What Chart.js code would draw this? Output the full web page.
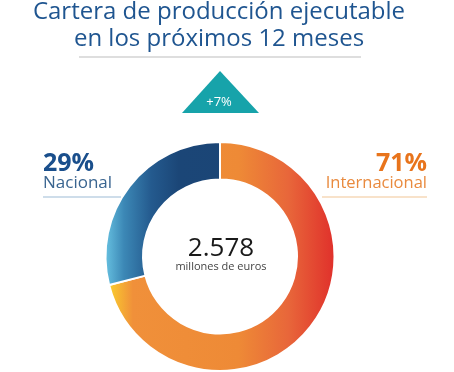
<!DOCTYPE html>
<html>
<head>
<meta charset="utf-8">
<script src="https://cdn.jsdelivr.net/npm/chart.js@4"></script>
<style>
  html, body { margin: 0; padding: 0; background: #fff; overflow: hidden; }
  #wrap { position: relative; width: 454px; height: 372px; }
</style>
</head>
<body>
<div id="wrap"><canvas id="cartera" width="454" height="372"></canvas></div>
<script>
// Datos del gráfico
const segmentos = ['Internacional', 'Nacional'];
const porcentajes = [71, 29];
const etiquetasPct = ['71%', '29%'];
const tituloLineas = ['Cartera de producción ejecutable', 'en los próximos 12 meses'];
const totalCartera = '2.578';
const unidadTotal = 'millones de euros';
const variacion = '+7%';

const FUENTE = "'Open Sans', sans-serif";
const RADIO = 114.5;

// Degradados horizontales de cada sector
const paradasColor = [
    [[0, '#fbd62c'], [0.12, '#f0903a'], [0.58, '#ee8a36'], [0.8, '#e8663a'], [1, '#e0302b']],
    [[0, '#66c0e0'], [0.08, '#3c88b6'], [0.2, '#245a8e'], [0.32, '#1b4677'], [1, '#1b4474']]
];

function degradado(chart, paradas) {
    const area = chart.chartArea;
    if (!area) return paradas[0][1];
    const cx = (area.left + area.right) / 2;
    const g = chart.ctx.createLinearGradient(cx - RADIO, 0, cx + RADIO, 0);
    paradas.forEach(([p, c]) => g.addColorStop(p, c));
    return g;
}

function texto(ctx, str, x, y, font, color, align) {
    ctx.font = font;
    ctx.fillStyle = color;
    ctx.textAlign = align || 'center';
    ctx.textBaseline = 'alphabetic';
    ctx.fillText(str, x, y);
}

// Textos, línea y triángulo alrededor del anillo
const decoracion = {
    id: 'decoracion',
    afterDraw(chart) {
        const ctx = chart.ctx;
        const area = chart.chartArea;
        const cx = (area.left + area.right) / 2;
        ctx.save();

        // título
        texto(ctx, tituloLineas[0], 219, 19, '24px ' + FUENTE, '#1f5590');
        texto(ctx, tituloLineas[1], 219, 46, '24px ' + FUENTE, '#1f5590');
        ctx.fillStyle = '#bdbdbd';
        ctx.fillRect(79, 56.5, 282, 1);

        // triángulo de variación
        ctx.fillStyle = '#17a3aa';
        ctx.beginPath();
        ctx.moveTo(220, 71);
        ctx.lineTo(259, 113);
        ctx.lineTo(182, 113);
        ctx.closePath();
        ctx.fill();
        texto(ctx, variacion, 219, 106, '13px ' + FUENTE, '#ffffff');

        // etiqueta nacional
        texto(ctx, etiquetasPct[1], 43, 171, 'bold 25px ' + FUENTE, '#1a4f8c', 'left');
        texto(ctx, segmentos[1], 43, 188, '17px ' + FUENTE, '#3a6590', 'left');
        ctx.fillStyle = '#9dbbd6';
        ctx.fillRect(43, 196.5, 78, 1);

        // etiqueta internacional
        texto(ctx, etiquetasPct[0], 427, 171, 'bold 25px ' + FUENTE, '#e8741c', 'right');
        texto(ctx, segmentos[0], 427, 188, '16.5px ' + FUENTE, '#e98a3e', 'right');
        ctx.fillStyle = '#f1c596';
        ctx.fillRect(322, 196.5, 105, 1);

        // total en el centro
        texto(ctx, totalCartera, cx + 1, 256, '26px ' + FUENTE, '#1a1a1a');
        texto(ctx, unidadTotal, cx + 1, 270, '11px ' + FUENTE, '#444444');

        ctx.restore();
    }
};

new Chart(document.getElementById('cartera'), {
    type: 'doughnut',
    data: {
        labels: segmentos,
        datasets: [{
            data: porcentajes,
            backgroundColor: (c) => degradado(c.chart, paradasColor[c.dataIndex]),
            borderColor: '#ffffff',
            borderWidth: 2,
            hoverOffset: 0
        }]
    },
    options: {
        responsive: false,
        animation: false,
        radius: RADIO,
        cutout: 77,
        rotation: 0,
        layout: { padding: { left: 0, right: 14, top: 141, bottom: 0 } },
        plugins: {
            legend: { display: false },
            tooltip: { enabled: false }
        },
        events: []
    },
    plugins: [decoracion]
});
</script>
</body>
</html>
